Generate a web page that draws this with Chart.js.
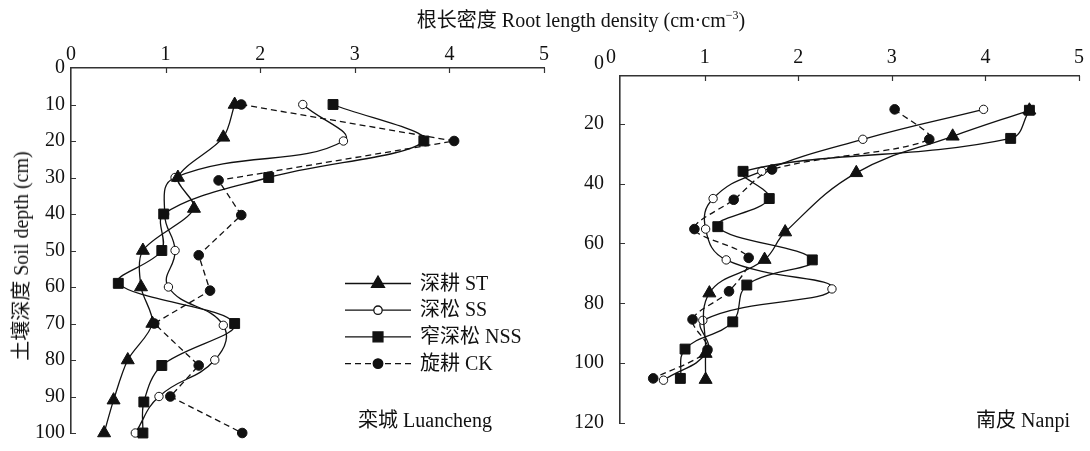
<!DOCTYPE html>
<html>
<head>
<meta charset="utf-8">
<script src="https://cdn.jsdelivr.net/npm/chart.js@4/dist/chart.umd.min.js"></script>
<style>
  html, body { margin: 0; padding: 0; background: #fff; }
  #wrap { position: relative; width: 1090px; height: 451px; overflow: hidden; background: #fff; }
  canvas { position: absolute; top: 0; }
  #c1 { left: 0; }
  #c2 { left: 560px; }
  .txt { position: absolute; font-family: "Liberation Serif", "Noto Sans CJK SC", serif; font-size: 20px; color: #111; white-space: nowrap; line-height: 1; }
  #title { left: 331px; width: 500px; top: 10px; text-align: center; }
  #title sup { font-size: 12px; vertical-align: 0; position: relative; top: -8px; }
  #ytitle { left: 21px; top: 256px; transform: translate(-50%, -50%) rotate(-90deg); }
</style>
</head>
<body>
<div id="wrap">
  <canvas id="c1" width="560" height="451"></canvas>
  <canvas id="c2" width="530" height="451"></canvas>
  <div class="txt" id="title">根长密度 Root length density (cm·cm<sup>−3</sup>)</div>
  <div class="txt" id="ytitle">土壤深度 Soil depth (cm)</div>
</div>
<script>
// Axis ticks
const xTicks = [0, 1, 2, 3, 4, 5];
const luanDepthTicks = [0, 10, 20, 30, 40, 50, 60, 70, 80, 90, 100];
const nanDepthTicks = [0, 20, 40, 60, 80, 100, 120];
const seriesNames = ['深耕 ST', '深松 SS', '窄深松 NSS', '旋耕 CK'];

// 栾城 Luancheng: soil depth (cm) and root length density (cm·cm-3)
const luanST_depth  = [10, 19, 30, 38.5, 50, 60, 70, 80, 91, 100];
const luanST_rld    = [1.73, 1.61, 1.13, 1.30, 0.76, 0.74, 0.86, 0.60, 0.45, 0.35];
const luanSS_depth  = [10, 20, 30, 40, 50, 60, 70.5, 80, 90, 100];
const luanSS_rld    = [2.45, 2.88, 1.10, 0.99, 1.10, 1.03, 1.61, 1.52, 0.93, 0.68];
const luanNSS_depth = [10, 20, 30, 40, 50, 59, 70, 81.5, 91.5, 100];
const luanNSS_rld   = [2.77, 3.73, 2.09, 0.98, 0.96, 0.50, 1.73, 0.96, 0.77, 0.76];
const luanCK_depth  = [10, 20, 30.8, 40.3, 51.3, 61, 70, 81.5, 90, 100];
const luanCK_rld    = [1.80, 4.05, 1.56, 1.80, 1.35, 1.47, 0.88, 1.35, 1.05, 1.81];

// 南皮 Nanpi
const nanST_depth  = [15.5, 24.2, 36.4, 56.2, 65.4, 76.6, 96.8, 105.5];
const nanST_rld    = [4.47, 3.65, 2.62, 1.86, 1.64, 1.05, 1.01, 1.01];
const nanSS_depth  = [15.2, 25.2, 35.9, 45, 55.2, 65.5, 75.2, 85.7, 96, 105.7];
const nanSS_rld    = [3.98, 2.69, 1.61, 1.09, 1.01, 1.23, 2.36, 0.98, 1.03, 0.56];
const nanNSS_depth = [15.5, 24.9, 35.9, 45, 54.4, 65.5, 73.9, 86.2, 95.3, 105.1];
const nanNSS_rld   = [4.47, 4.27, 1.41, 1.69, 1.14, 2.15, 1.45, 1.30, 0.79, 0.74];
const nanCK_depth  = [15.2, 25.2, 35.3, 45.4, 55.2, 64.8, 76, 85.4, 95.5, 105.1];
const nanCK_rld    = [3.03, 3.40, 1.72, 1.31, 0.89, 1.47, 1.26, 0.87, 1.03, 0.45];

const FONT = '"Liberation Serif", "Noto Sans CJK SC", serif';
const INK = '#111';

function points(depth, rld) {
  return depth.map((d, i) => ({ x: rld[i], y: d }));
}

// marker and line look of each treatment
const looks = [
  { pointStyle: 'triangle', pointRadius: 7.5, pointBackgroundColor: INK, pointBorderColor: INK, pointBorderWidth: 1, borderDash: [], order: 1 },
  { pointStyle: 'circle', pointRadius: 4.2, pointBackgroundColor: '#fff', pointBorderColor: INK, pointBorderWidth: 1, borderDash: [], order: 3 },
  { pointStyle: 'rect', pointRadius: 7, pointBackgroundColor: INK, pointBorderColor: INK, pointBorderWidth: 1, borderDash: [], order: 0 },
  { pointStyle: 'circle', pointRadius: 4.8, pointBackgroundColor: INK, pointBorderColor: INK, pointBorderWidth: 1, borderDash: [6, 4], order: 2 }
];

function makeDataset(idx, depth, rld, tension) {
  return Object.assign({
    label: seriesNames[idx],
    data: points(depth, rld),
    showLine: true,
    borderColor: INK,
    borderWidth: 1.3,
    tension: tension,
    fill: false,
    clip: false
  }, looks[idx]);
}

// short tick marks pointing into the plot area
const inwardTicks = {
  id: 'inwardTicks',
  afterDraw(chart) {
    const { ctx, chartArea: a } = chart;
    const xs = chart.scales.x, ys = chart.scales.y;
    ctx.save();
    ctx.strokeStyle = '#333';
    ctx.lineWidth = 1.2;
    ctx.beginPath();
    xs.ticks.forEach(t => {
      if (t.value <= xs.min || t.value > xs.max) return;
      const px = Math.round(xs.getPixelForValue(t.value)) + 0.5;
      ctx.moveTo(px, a.top);
      ctx.lineTo(px, a.top + 5);
    });
    ys.ticks.forEach(t => {
      if (t.value <= ys.min || t.value > ys.max) return;
      const py = Math.round(ys.getPixelForValue(t.value)) + 0.5;
      ctx.moveTo(a.left, py);
      ctx.lineTo(a.left + 5, py);
    });
    ctx.stroke();
    ctx.restore();
  }
};

// site name and treatment key
const panelText = {
  id: 'panelText',
  afterDraw(chart, args, o) {
    const ctx = chart.ctx;
    ctx.save();
    ctx.font = '20px ' + FONT;
    ctx.fillStyle = INK;
    ctx.textBaseline = 'middle';
    ctx.textAlign = 'center';
    ctx.fillText(o.site, o.siteX, o.siteY);
    if (o.key) {
      const k = o.key;
      chart.data.datasets.forEach((ds, i) => {
        const y = k.y + i * k.gap;
        ctx.save();
        ctx.strokeStyle = ds.borderColor;
        ctx.lineWidth = ds.borderWidth;
        ctx.setLineDash(ds.borderDash || []);
        ctx.beginPath();
        ctx.moveTo(k.x0, y);
        ctx.lineTo(k.x1, y);
        ctx.stroke();
        ctx.setLineDash([]);
        ctx.fillStyle = ds.pointBackgroundColor;
        ctx.strokeStyle = ds.pointBorderColor;
        Chart.helpers.drawPoint(ctx, {
          pointStyle: ds.pointStyle,
          radius: ds.pointRadius,
          rotation: 0,
          borderWidth: ds.pointBorderWidth
        }, (k.x0 + k.x1) / 2, y);
        ctx.restore();
        ctx.textAlign = 'left';
        ctx.fillStyle = INK;
        ctx.fillText(ds.label, k.textX, y + 1);
      });
    }
    ctx.restore();
  }
};

function makeOptions(cfg) {
  return {
    responsive: false,
    animation: false,
    events: [],
    layout: { padding: cfg.padding },
    plugins: {
      legend: { display: false },
      tooltip: { enabled: false },
      panelText: cfg.text
    },
    scales: {
      x: {
        type: 'linear',
        position: 'top',
        min: cfg.xMin,
        max: 5,
        afterBuildTicks: s => { s.ticks = xTicks.map(v => ({ value: v })); },
        afterFit: s => { s.height = cfg.xHeight; },
        ticks: { autoSkip: false, maxRotation: 0, padding: cfg.xPad, color: INK, font: { family: FONT, size: 20 } },
        grid: { drawOnChartArea: false, drawTicks: false },
        border: { display: true, color: '#333', width: 1.6 }
      },
      y: {
        type: 'linear',
        position: 'left',
        reverse: true,
        min: cfg.yMin,
        max: cfg.yMax,
        afterBuildTicks: s => { s.ticks = cfg.yTicks.map(v => ({ value: v })); },
        afterFit: s => { s.width = cfg.yWidth; },
        ticks: { autoSkip: false, padding: cfg.yPad, color: INK, font: { family: FONT, size: 20 } },
        grid: { drawOnChartArea: false, drawTicks: false },
        border: { display: true, color: '#333', width: 1.6 }
      }
    }
  };
}

new Chart(document.getElementById('c1'), {
  type: 'scatter',
  data: {
    datasets: [
      makeDataset(0, luanST_depth, luanST_rld, 0.3),
      makeDataset(1, luanSS_depth, luanSS_rld, 0.45),
      makeDataset(2, luanNSS_depth, luanNSS_rld, 0.35),
      makeDataset(3, luanCK_depth, luanCK_rld, 0)
    ]
  },
  options: makeOptions({
    padding: { left: 0, top: 0, right: 16, bottom: 16 },
    xMin: 0, xHeight: 68, xPad: 1,
    yMin: 0, yMax: 100, yTicks: luanDepthTicks, yWidth: 71, yPad: 6,
    text: {
      site: '栾城 Luancheng', siteX: 425, siteY: 422,
      key: { x0: 345, x1: 411, textX: 420, y: 283.5, gap: 26.7 }
    }
  }),
  plugins: [inwardTicks, panelText]
});

new Chart(document.getElementById('c2'), {
  type: 'scatter',
  data: {
    datasets: [
      makeDataset(0, nanST_depth, nanST_rld, 0.4),
      makeDataset(1, nanSS_depth, nanSS_rld, 0.45),
      makeDataset(2, nanNSS_depth, nanNSS_rld, 0.4),
      makeDataset(3, nanCK_depth, nanCK_rld, 0.3)
    ]
  },
  options: makeOptions({
    padding: { left: 0, top: 0, right: 7, bottom: 12 },
    xMin: 0.095, xHeight: 76, xPad: 6,
    yMin: 4.05, yMax: 120, yTicks: nanDepthTicks, yWidth: 60, yPad: 16,
    text: { site: '南皮 Nanpi', siteX: 463, siteY: 422 }
  }),
  plugins: [inwardTicks, panelText]
});
</script>
</body>
</html>
